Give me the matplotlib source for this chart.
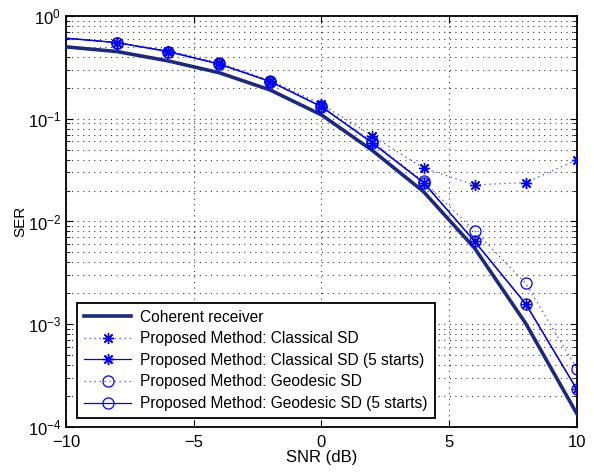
import matplotlib
matplotlib.use("Agg")
import matplotlib.pyplot as plt
from matplotlib.ticker import LogLocator, NullFormatter

plt.rcParams['font.family'] = ['Liberation Sans', 'DejaVu Sans']

snr = [-10, -8, -6, -4, -2, 0, 2, 4, 6, 8, 10]
coherent = [0.50, 0.45, 0.365, 0.28, 0.19, 0.109, 0.049, 0.0195, 0.0055, 0.00102, 0.000135]
classical = [0.61, 0.55, 0.46, 0.35, 0.235, 0.139, 0.068, 0.033, 0.0227, 0.0239, 0.0397]
classical5 = [0.607, 0.55, 0.45, 0.34, 0.23, 0.131, 0.058, 0.0239, 0.0064, 0.00158, 0.000233]
geodesic = [0.607, 0.55, 0.45, 0.345, 0.232, 0.133, 0.06, 0.0245, 0.0081, 0.0025, 0.00037]
geodesic5 = [0.607, 0.55, 0.45, 0.34, 0.23, 0.131, 0.058, 0.0239, 0.0064, 0.00158, 0.000233]

fig = plt.figure(figsize=(5.94, 4.72), dpi=100)
ax = fig.add_axes([0.111, 0.0953, 0.860, 0.871])

star = (8, 2, 0)
dot = (0, (1, 3))
me = range(1, len(snr))
ax.semilogy(snr, coherent, color='#1a2a80', lw=2.6, label='Coherent receiver', zorder=3)
ax.semilogy(snr, classical, color='#3344ff', ls=dot, lw=0.9, marker=star, ms=8, mew=1.0,
            mec='blue', markevery=me, label='Proposed Method: Classical SD', zorder=4)
ax.semilogy(snr, classical5, color='blue', ls='-', lw=0.9, marker=star, ms=8, mew=1.0,
            markevery=me, label='Proposed Method: Classical SD (5 starts)', zorder=4)
ax.semilogy(snr, geodesic, color='#3344ff', ls=dot, lw=0.9, marker='o', ms=8, mfc='none', mew=0.9,
            mec='blue', markevery=me, label='Proposed Method: Geodesic SD', zorder=4)
ax.semilogy(snr, geodesic5, color='blue', ls='-', lw=0.9, marker='o', ms=8, mfc='none', mew=0.9,
            markevery=me, label='Proposed Method: Geodesic SD (5 starts)', zorder=4)

ax.set_xlim(-10, 10)
ax.set_ylim(1e-4, 1)
ax.set_xticks([-10, -5, 0, 5, 10])
ax.set_xticklabels(['\u221210', '\u22125', '0', '5', '10'])
ax.yaxis.set_major_locator(LogLocator(base=10, numticks=10))
ax.yaxis.set_minor_locator(LogLocator(base=10, subs=range(2, 10), numticks=10))
ax.yaxis.set_minor_formatter(NullFormatter())
gkw = dict(ls=(0, (1, 4)), color='#333333', lw=0.8)
ax.grid(True, which='major', **gkw)
ax.grid(True, which='minor', axis='y', **gkw)
ax.tick_params(which='both', direction='in', top=True, right=True, labelsize=12)
ax.tick_params(axis='x', pad=6)
ax.tick_params(which='major', length=5)
ax.tick_params(which='minor', length=3)
for s in ax.spines.values():
    s.set_linewidth(1.3)

ax.set_xlabel('SNR (dB)', fontsize=12, labelpad=0)
ax.set_ylabel('SER', fontsize=11, labelpad=0)

leg = ax.legend(loc='lower left', fontsize=11.2, frameon=True, fancybox=False,
                framealpha=1, edgecolor='black', borderpad=0.45, labelspacing=0.42,
                handlelength=3.0, handletextpad=0.6, borderaxespad=0.0,
                bbox_to_anchor=(0.022, 0.022))
leg.get_frame().set_linewidth(1.3)

fig.savefig('out.png', dpi=100)
